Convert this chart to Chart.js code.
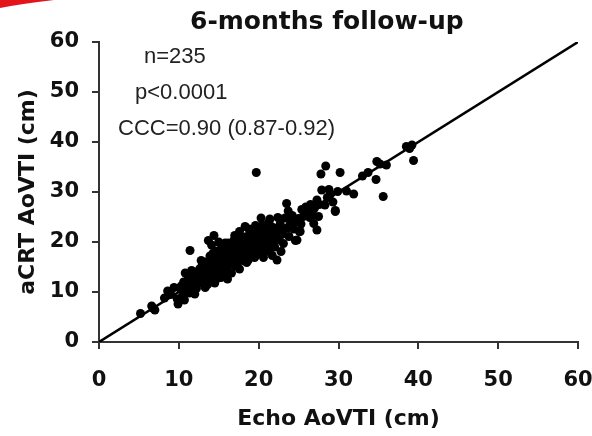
<!DOCTYPE html>
<html>
<head>
<meta charset="utf-8">
<script src="https://cdn.jsdelivr.net/npm/chart.js@4.4.1/dist/chart.umd.min.js"></script>
<style>
body { margin: 0; background: #fff; }
</style>
</head>
<body>
<canvas id="chart" width="592" height="436"></canvas>
<script>
const echoVti = [
    5.2, 6.8, 6.6, 7.0, 8.2, 9.0, 9.9, 9.8, 10.2, 10.5, 8.6, 9.4,
    10.3, 10.6, 10.9, 11.0, 11.2, 11.4, 11.5, 11.7, 11.9, 12.0, 10.8, 11.3, 12.1, 11.6, 10.4,
    12.3, 12.4, 12.6, 12.7, 12.9, 13.0, 13.1, 13.2, 13.4, 13.5, 13.6, 13.7, 13.8, 13.9, 14.0, 12.2, 12.8, 13.3, 14.1, 14.2, 14.4, 14.3, 12.5, 13.1, 13.6,
    14.5, 14.6, 14.7, 14.8, 14.9, 15.0, 15.1, 15.2, 15.3, 15.4, 15.5, 15.6, 15.7, 15.8, 15.9, 16.0, 14.5, 14.8, 15.0, 15.3, 15.6, 15.9, 16.0, 15.2, 14.7, 15.8,
    16.1, 16.2, 16.3, 16.4, 16.5, 16.6, 16.7, 16.8, 16.9, 17.0, 17.1, 17.2, 17.3, 17.4, 17.5, 17.6, 17.7, 17.8, 17.9, 18.0, 16.2, 16.6, 17.0, 17.4, 17.8, 16.9, 17.6, 18.0, 16.4, 17.2,
    18.1, 18.2, 18.3, 18.4, 18.5, 18.6, 18.7, 18.8, 18.9, 19.0, 19.1, 19.2, 19.3, 19.4, 19.5, 19.6, 19.7, 19.8, 19.9, 20.0, 18.3, 18.7, 19.0, 19.3, 19.6, 19.9, 18.5, 19.2, 20.0, 18.9, 19.4, 19.8,
    20.1, 20.2, 20.3, 20.4, 20.5, 20.6, 20.7, 20.8, 20.9, 21.0, 21.1, 21.2, 21.3, 21.4, 21.5, 21.6, 21.7, 21.8, 21.9, 22.0, 20.3, 20.6, 21.0, 21.5, 22.0, 20.8, 21.3, 21.8,
    22.2, 22.3, 22.5, 22.7, 22.9, 23.1, 23.3, 23.5, 23.6, 23.8, 23.9, 24.0, 22.4, 23.0, 23.7,
    24.2, 24.4, 24.6, 24.8, 25.0, 25.1, 25.2, 25.4, 25.6, 25.9, 24.5, 25.3,
    26.2, 26.5, 26.8, 26.9, 27.3, 27.3, 27.5, 27.9, 27.8, 26.4, 27.0, 27.6,
    28.3, 28.4, 28.6, 29.0, 29.3, 29.6, 29.9, 30.2, 29.6, 28.8,
    31.0, 31.9, 33.0, 33.7, 34.7, 34.8, 35.2, 35.6, 36.0, 38.9, 39.2, 39.4, 38.5,
    10.7, 12.0, 14.1, 16.1, 22.8
];
const acrtVti = [
    5.7, 6.7, 7.2, 6.4, 8.8, 9.5, 7.6, 8.6, 10.6, 9.2, 10.2, 10.9,
    11.2, 12.0, 10.4, 11.8, 13.1, 18.3, 10.9, 12.6, 11.3, 13.8, 13.8, 9.8, 12.2, 14.3, 9.0,
    11.5, 13.4, 14.6, 12.1, 15.2, 13.0, 11.8, 14.1, 16.0, 12.6, 15.0, 20.3, 13.7, 17.2, 14.5, 10.7, 16.3, 10.9, 12.9, 15.9, 21.3, 17.8, 12.9, 14.8, 11.5,
    13.6, 16.4, 14.9, 18.2, 12.8, 15.6, 17.0, 14.2, 16.8, 19.1, 13.9, 15.3, 17.6, 16.1, 14.6, 18.5, 11.8, 15.7, 20.0, 12.9, 18.9, 16.9, 15.0, 16.0, 17.3, 19.8,
    16.5, 14.1, 17.9, 19.4, 15.6, 17.2, 18.6, 16.0, 20.3, 17.5, 15.2, 18.9, 16.7, 19.8, 18.0, 14.6, 17.1, 20.8, 18.4, 16.3, 19.8, 13.8, 21.3, 16.1, 19.2, 18.1, 22.1, 19.9, 17.0, 17.9,
    18.7, 21.0, 17.4, 19.5, 15.9, 20.3, 18.2, 22.6, 19.0, 17.0, 20.7, 18.6, 21.6, 19.6, 16.9, 20.1, 33.9, 18.9, 22.3, 20.5, 23.1, 16.4, 19.3, 17.8, 23.3, 19.2, 20.9, 21.1, 17.7, 21.9, 18.1, 20.9,
    19.6, 21.8, 18.5, 20.9, 23.4, 19.8, 17.9, 21.2, 20.1, 22.5, 18.8, 20.7, 24.0, 24.6, 19.5, 21.6, 17.3, 22.9, 20.3, 21.4, 24.8, 16.9, 20.0, 22.3, 19.0, 23.0, 18.2, 20.6,
    22.6, 16.4, 20.4, 23.6, 21.5, 19.7, 24.8, 27.7, 22.8, 21.1, 24.4, 23.5, 24.9, 22.0, 26.2,
    25.3, 22.6, 20.3, 20.4, 24.7, 22.1, 22.1, 26.5, 25.1, 27.0, 24.0, 23.6,
    26.1, 27.5, 25.4, 23.7, 22.4, 28.4, 25.1, 30.4, 33.6, 24.9, 26.8, 27.5,
    27.4, 35.2, 28.9, 29.6, 28.0, 26.3, 30.1, 33.9, 26.1, 30.5,
    30.2, 29.6, 33.2, 33.9, 32.5, 36.1, 35.6, 29.1, 35.4, 38.7, 39.4, 36.3, 39.1,
    8.4, 9.6, 19.4, 12.6, 18.1
];
const identityLine = [0, 60];
const axisMin = 0;
const axisMax = 60;
const axisStep = 10;
const chartTitle = '6-months follow-up';
const notes = ['n=235', 'p<0.0001', 'CCC=0.90 (0.87-0.92)'];

const boldFont = (size) => ({family: "'DejaVu Sans', sans-serif", weight: 'bold', size: size});

// title, stats text and the red corner mark
const textPlugin = {
    id: 'textPlugin',
    beforeDraw(chart) {
        const ctx = chart.ctx;
        ctx.save();
        ctx.fillStyle = '#e3141c';
        ctx.beginPath();
        ctx.moveTo(0, 0);
        ctx.lineTo(54, 0);
        ctx.quadraticCurveTo(20, 4, 0, 8);
        ctx.closePath();
        ctx.fill();
        ctx.restore();
    },
    afterDraw(chart) {
        const ctx = chart.ctx;
        ctx.save();
        ctx.fillStyle = '#111';
        ctx.textBaseline = 'alphabetic';
        ctx.textAlign = 'left';
        ctx.font = "bold 25px 'DejaVu Sans', sans-serif";
        ctx.fillText(chartTitle, 190, 29);
        ctx.fillStyle = '#222';
        ctx.font = "22px 'Liberation Sans', Arial, sans-serif";
        ctx.fillText(notes[0], 144, 63);
        ctx.fillText(notes[1], 135, 99);
        ctx.fillText(notes[2], 118, 135);
        ctx.restore();
    }
};

const axisSettings = (title) => ({
    type: 'linear',
    min: axisMin,
    max: axisMax,
    ticks: {stepSize: axisStep, color: '#111', font: boldFont(21)},
    grid: {drawOnChartArea: false, tickLength: 7, color: '#333', lineWidth: 2},
    border: {color: '#333', width: 2},
    title: {display: true, text: title, color: '#111', font: boldFont(22)}
});

const xAxis = axisSettings('Echo AoVTI (cm)');
xAxis.ticks.padding = 19;
xAxis.title.padding = {top: 0, bottom: 4};
xAxis.afterFit = (scale) => {
    scale.height = 94;
    // keep the chart area reaching x = 578
    scale.paddingRight = 14;
};
const yAxis = axisSettings('aCRT AoVTI (cm)');
yAxis.ticks.padding = 13;
yAxis.title.padding = {top: 15, bottom: 0};
yAxis.afterFit = (scale) => { scale.width = 99; };

new Chart(document.getElementById('chart'), {
    type: 'scatter',
    data: {
        datasets: [{
            label: 'Identity',
            data: identityLine.map(v => ({x: v, y: v})),
            showLine: true,
            borderColor: '#000',
            borderWidth: 2.5,
            pointRadius: 0
        }, {
            label: 'Patients',
            data: echoVti.map((x, i) => ({x: x, y: acrtVti[i]})),
            pointRadius: 4.5,
            pointBackgroundColor: '#000',
            pointBorderWidth: 0
        }]
    },
    options: {
        responsive: false,
        animation: false,
        layout: {padding: {top: 42, right: 0, bottom: 0, left: 0}},
        scales: {x: xAxis, y: yAxis},
        plugins: {
            legend: {display: false},
            tooltip: {enabled: false}
        }
    },
    plugins: [textPlugin]
});
</script>
</body>
</html>
